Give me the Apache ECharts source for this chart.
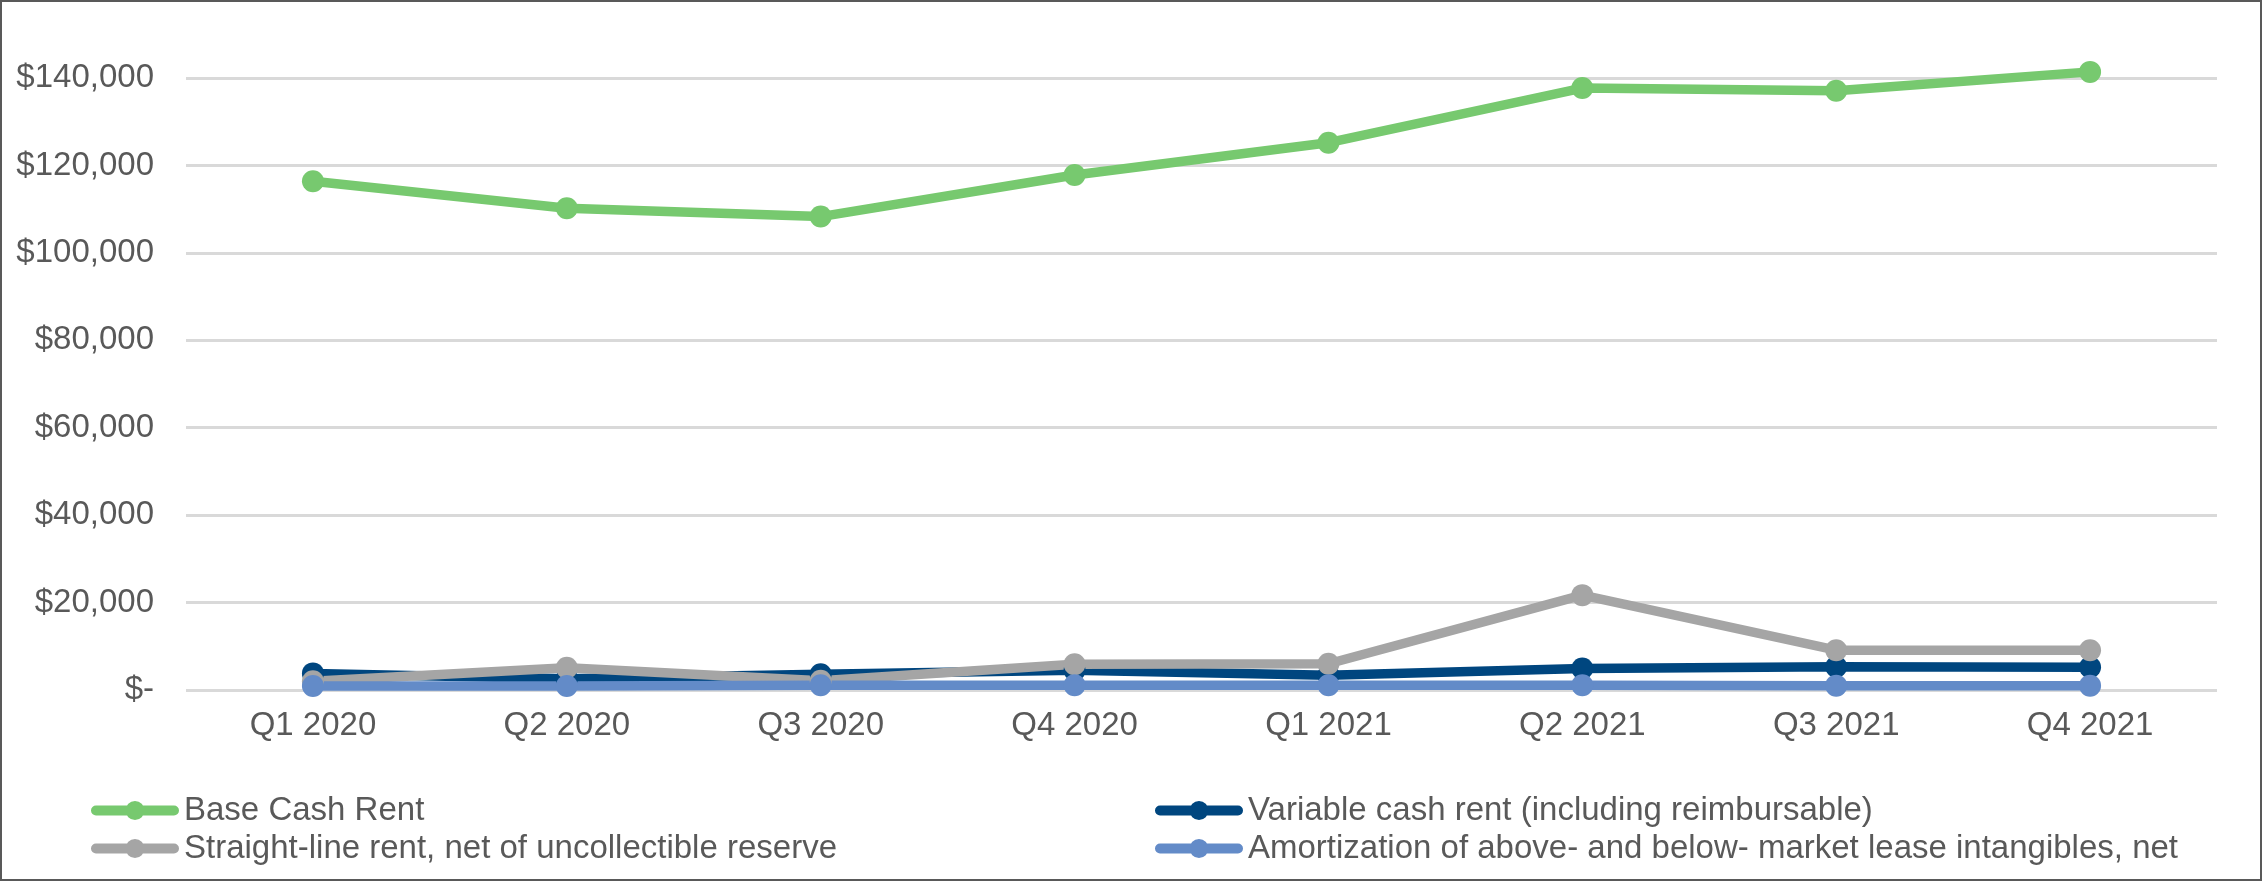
<!DOCTYPE html>
<html>
<head>
<meta charset="utf-8">
<script src="https://cdn.jsdelivr.net/npm/echarts@6/dist/echarts.min.js"></script>
<style>
html,body{margin:0;padding:0;background:#fff;}
#frame{width:2262px;height:881px;box-sizing:border-box;border:2px solid #595959;background:#fff;}
#chart{width:2258px;height:877px;}
</style>
</head>
<body>
<div id="frame"><div id="chart"></div></div>
<script>
const categories = ['Q1 2020','Q2 2020','Q3 2020','Q4 2020','Q1 2021','Q2 2021','Q3 2021','Q4 2021'];
const baseCashRent = [116400, 110200, 108300, 117800, 125200, 137700, 137100, 141400];
const variableCashRent = [3800, 2600, 3600, 4500, 3400, 4900, 5300, 5200];
const straightLineRent = [2000, 5100, 2100, 5900, 6000, 21700, 9100, 9100];
const amortization = [900, 900, 1100, 1100, 1100, 1100, 1000, 1000];
const yTicks = [0, 20000, 40000, 60000, 80000, 100000, 120000, 140000];

const names = {
  base: 'Base Cash Rent',
  variable: 'Variable cash rent (including reimbursable)',
  straight: 'Straight-line rent, net of uncollectible reserve',
  amort: 'Amortization of above- and below- market lease intangibles, net'
};
const colors = { base: '#77C96F', variable: '#00467F', straight: '#A5A5A5', amort: '#638BC8' };

function fmt(v) {
  if (v === 0) return '$-';
  return '$' + v.toLocaleString('en-US');
}

const font = '"Liberation Sans", Arial, sans-serif';
const txt = '#595959';
const legendIcon = 'path://M5,5 L83,5 A5,5 0 0 1 83,15 L5,15 A5,5 0 0 1 5,5 Z M44,0.5 A9.5,9.5 0 1 1 43.99,0.5 Z';

function mk(key, data) {
  return {
    name: names[key], type: 'line', data: data,
    symbol: 'circle', symbolSize: 22, clip: false,
    lineStyle: { color: colors[key], width: 9.5 },
    itemStyle: { color: colors[key] },
    emphasis: { disabled: true },
    animation: false
  };
}

const legendCommon = {
  orient: 'vertical', itemWidth: 88, itemHeight: 20, itemGap: 5,
  textStyle: { color: txt, fontFamily: font, fontSize: 33, lineHeight: 33 },
  selectedMode: false
};

function legData(keys) {
  return keys.map(k => ({ name: names[k], icon: legendIcon, itemStyle: { color: colors[k] } }));
}

const chart = echarts.init(document.getElementById('chart'), null, { renderer: 'canvas' });
chart.setOption({
  backgroundColor: '#fff',
  animation: false,
  grid: { left: 184, right: 43, top: 76, bottom: 189, containLabel: false },
  legend: [
    Object.assign({ data: legData(['base', 'straight']), left: 84, top: 787 }, legendCommon),
    Object.assign({ data: legData(['variable', 'amort']), left: 1148, top: 787 }, legendCommon)
  ],
  xAxis: {
    type: 'category', data: categories, boundaryGap: true,
    axisLine: { show: false }, axisTick: { show: false },
    axisLabel: { color: txt, fontFamily: font, fontSize: 33, margin: 19 },
    splitLine: { show: false }
  },
  yAxis: {
    type: 'value', min: 0, max: yTicks[yTicks.length - 1], interval: 20000,
    axisLine: { show: false }, axisTick: { show: false },
    axisLabel: { color: txt, fontFamily: font, fontSize: 33, margin: 32, formatter: fmt },
    splitLine: { lineStyle: { color: '#D9D9D9', width: 3 } }
  },
  series: [
    mk('base', baseCashRent),
    mk('variable', variableCashRent),
    mk('straight', straightLineRent),
    mk('amort', amortization)
  ]
});
</script>
</body>
</html>
